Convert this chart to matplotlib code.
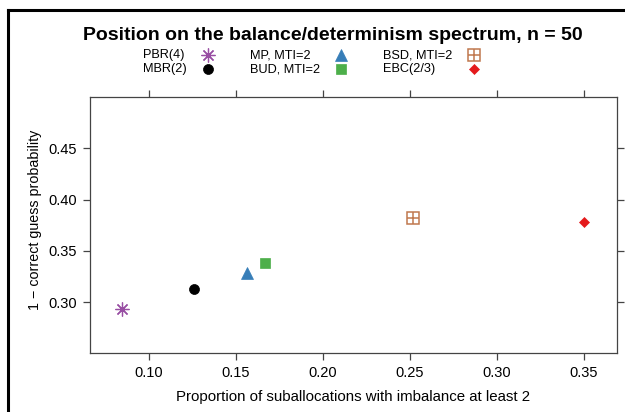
import matplotlib
matplotlib.use('Agg')
import matplotlib.pyplot as plt
from matplotlib.lines import Line2D

plt.rcParams['font.family'] = ['Liberation Sans', 'DejaVu Sans']

# values
labels = ['PBR(4)', 'MBR(2)', 'MP, MTI=2', 'BUD, MTI=2', 'BSD, MTI=2', 'EBC(2/3)']
imbalance = [0.0843, 0.1256, 0.1560, 0.1667, 0.2516, 0.3502]
guess = [0.2929, 0.3131, 0.3288, 0.3385, 0.3819, 0.3783]
colors = ['#984EA3', 'black', '#377EB8', '#4DAF4A', '#C0784E', '#E41A1C']
markers = [(8, 2, 0), 'o', '^', 's', 's', 'D']
sizes = [10, 7.2, 9, 7.3, 8, 5.3]

xticks = [0.10, 0.15, 0.20, 0.25, 0.30, 0.35]
yticks = [0.30, 0.35, 0.40, 0.45]

W, H = 625, 412
fig = plt.figure(figsize=(W / 100, H / 100), dpi=100)
ax = fig.add_axes([90 / W, 1 - 353.3 / H, (617 - 90) / W, (353.3 - 97.3) / H])


def marker_style(i):
    mew = 0.9 if i == 0 else 0.5
    if i == 4:
        # square with a cross inside
        return [dict(marker='s', ms=sizes[i], mfc='none', mec=colors[i], mew=1.1),
                dict(marker='+', ms=sizes[i], mec=colors[i], mew=1.1)]
    return [dict(marker=markers[i], ms=sizes[i], color=colors[i],
                 mec=colors[i], mew=mew)]


for i in range(len(labels)):
    for st in marker_style(i):
        ax.plot(imbalance[i], guess[i], ls='none', **st)

ax.set_xlim(0.066, 0.369)
ax.set_ylim(0.25, 0.50)
ax.set_xticks(xticks)
ax.set_xticklabels(['%.2f' % v for v in xticks])
ax.set_yticks(yticks)
ax.set_yticklabels(['%.2f' % v for v in yticks])
ax.tick_params(direction='out', length=4.8, width=0.9, color='#444444',
               labelsize=10.5, top=True, right=True, pad=4.5)
for s in ax.spines.values():
    s.set_color('#444444')
    s.set_linewidth(0.9)

ax.set_xlabel('Proportion of suballocations with imbalance at least 2',
              fontsize=10.8, labelpad=7)
ax.set_ylabel('1 \u2212 correct guess probability', fontsize=10.3)
ax.yaxis.set_label_coords(-0.0916, 0.52)

fig.text(333 / W, 1 - 35 / H, 'Position on the balance/determinism spectrum, n = 50',
         ha='center', va='center', fontsize=14, fontweight='bold')

# key: two rows, three columns, label then symbol
text_x = [142.6, 250.3, 383.4]
mark_x = [208, 341.4, 473.8]
row_y = [55, 69]
for i, lab in enumerate(labels):
    col, row = i // 2, i % 2
    fig.text(text_x[col] / W, 1 - row_y[row] / H, lab, ha='left', va='center',
             fontsize=9.2)
    for st in marker_style(i):
        fig.add_artist(Line2D([mark_x[col] / W], [1 - row_y[row] / H],
                              transform=fig.transFigure, ls='none', **st))

# frame line around the picture
fig.add_artist(Line2D([8 / W, 1.0], [1 - 10 / H, 1 - 10 / H],
                      transform=fig.transFigure, color='black', lw=2.2))
fig.add_artist(Line2D([8 / W, 8 / W], [0.0, 1 - 10 / H],
                      transform=fig.transFigure, color='black', lw=2.2))

fig.savefig('out.png', dpi=100)
